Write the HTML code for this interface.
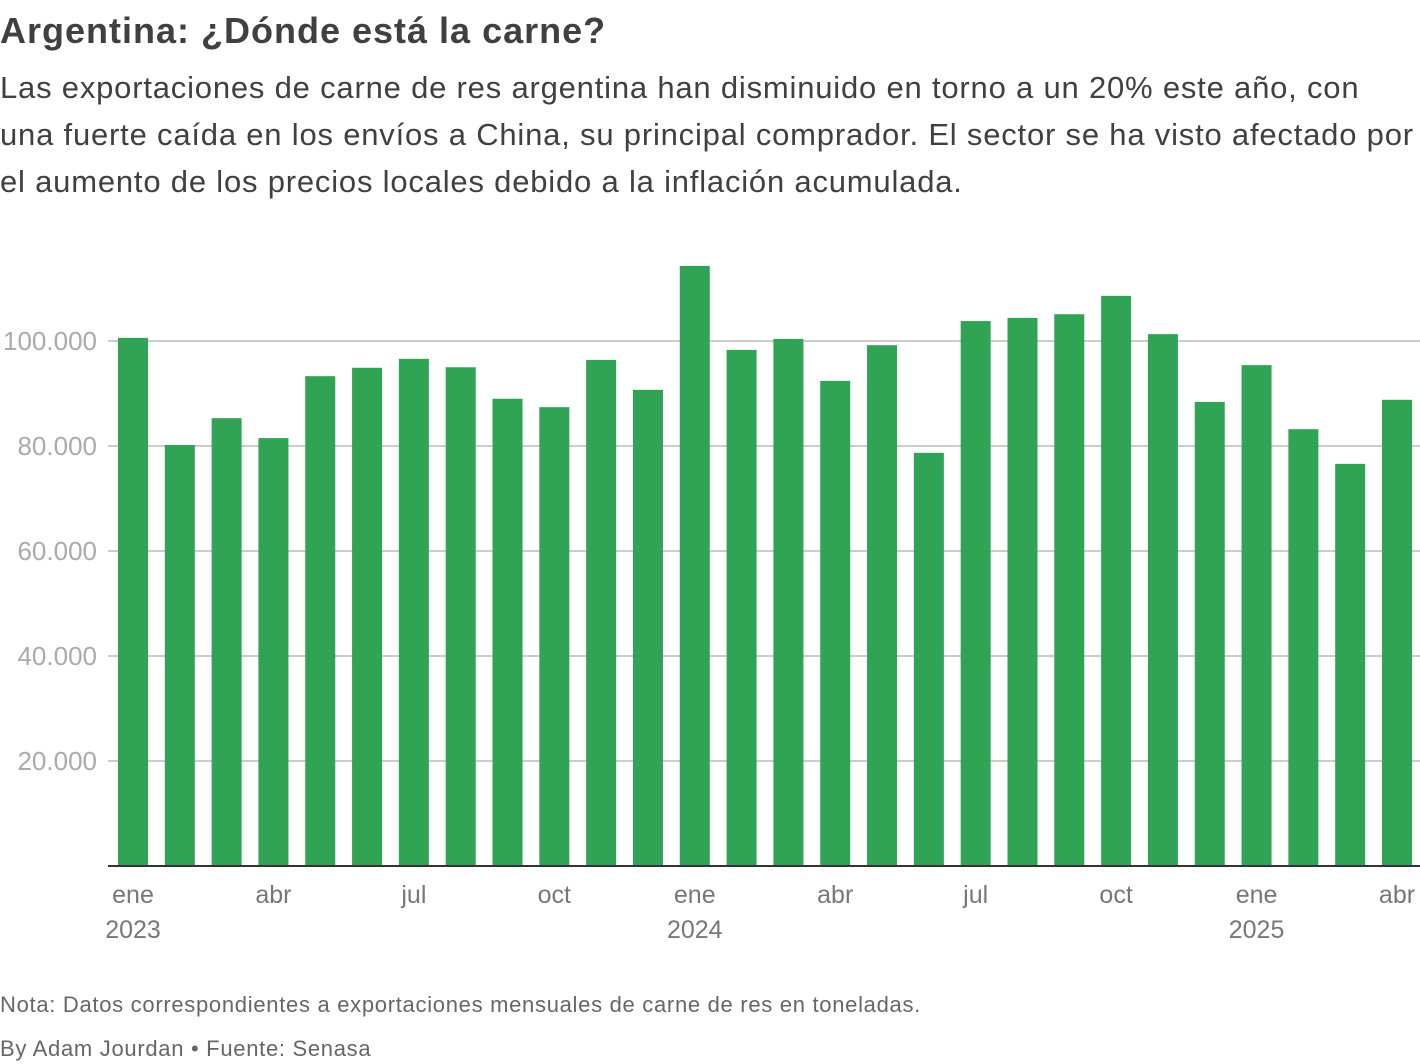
<!DOCTYPE html>
<html><head><meta charset="utf-8"><style>
body{margin:0;width:1420px;height:1064px;background:#fff;font-family:"Liberation Sans",sans-serif;overflow:hidden;position:relative}
#title{position:absolute;left:0;top:10px;font-size:36px;font-weight:bold;color:#404040;letter-spacing:1px}
#sub{position:absolute;left:0;top:64px;font-size:31px;line-height:47px;color:#404040;width:1420px;white-space:nowrap;letter-spacing:0.8px}
#note{position:absolute;left:0;top:992px;font-size:22px;color:#666;letter-spacing:0.7px}
#by{position:absolute;left:0;top:1036px;font-size:22px;color:#666;letter-spacing:0.7px}
svg{position:absolute;left:0;top:0}
</style></head><body>
<div id="title">Argentina: ¿Dónde está la carne?</div>
<div id="sub">Las exportaciones de carne de res argentina han disminuido en torno a un 20% este año, con<br>una fuerte caída en los envíos a China, su principal comprador. El sector se ha visto afectado por<br>el aumento de los precios locales debido a la inflación acumulada.</div>
<svg id="chart" width="1420" height="1064"></svg>
<div id="note">Nota: Datos correspondientes a exportaciones mensuales de carne de res en toneladas.</div>
<div id="by">By Adam Jourdan • Fuente: Senasa</div>
<script>
const values=[100.6,80.2,85.3,81.5,93.3,94.9,96.6,95.0,89.0,87.4,96.4,90.7,114.3,98.3,100.4,92.4,99.2,78.7,103.8,104.4,105.1,108.6,101.3,88.4,95.4,83.2,76.6,88.8];
const yTicks=[20,40,60,80,100];
const yTickLabels=["20.000","40.000","60.000","80.000","100.000"];
const xTickIdx=[0,3,6,9,12,15,18,21,24,27];
const xTickLabels=["ene","abr","jul","oct","ene","abr","jul","oct","ene","abr"];
const yearIdx=[0,12,24];
const yearLabels=["2023","2024","2025"];
const NS="http://www.w3.org/2000/svg";
const svg=document.getElementById('chart');
const y0=866,pxPer=5.25;
const y=v=>y0-v*pxPer;
const x=i=>133+i*(1397-133)/27;
function mk(t,a){const e=document.createElementNS(NS,t);for(const k in a)e.setAttribute(k,a[k]);svg.appendChild(e);return e;}
yTicks.forEach((v,i)=>{
 const l=mk('line',{x1:108,x2:1420,y1:y(v),y2:y(v),stroke:'#ccc','stroke-width':2});
 
 
 const t=mk('text',{x:97,y:y(v)+9,'text-anchor':'end','font-size':26,fill:'#aaa','font-family':'Liberation Sans, sans-serif'});
 t.textContent=yTickLabels[i];
 
 
});
values.forEach((v,i)=>{
 const r=mk('rect',{x:x(i)-15,y:y(v),width:30,height:v*pxPer,fill:'#31a354'});
 
 
});
const ax=mk('line',{x1:108,x2:1420,y1:y0,y2:y0,stroke:'#333','stroke-width':2});


xTickIdx.forEach((idx,i)=>{
 const t=mk('text',{x:x(idx),y:903,'text-anchor':'middle','font-size':25,fill:'#777','font-family':'Liberation Sans, sans-serif'});
 t.textContent=xTickLabels[i];
 
 
});
yearIdx.forEach((idx,i)=>{
 const t=mk('text',{x:x(idx),y:938,'text-anchor':'middle','font-size':25,fill:'#777','font-family':'Liberation Sans, sans-serif'});
 t.textContent=yearLabels[i];
 
 
});
</script>
</body></html>
